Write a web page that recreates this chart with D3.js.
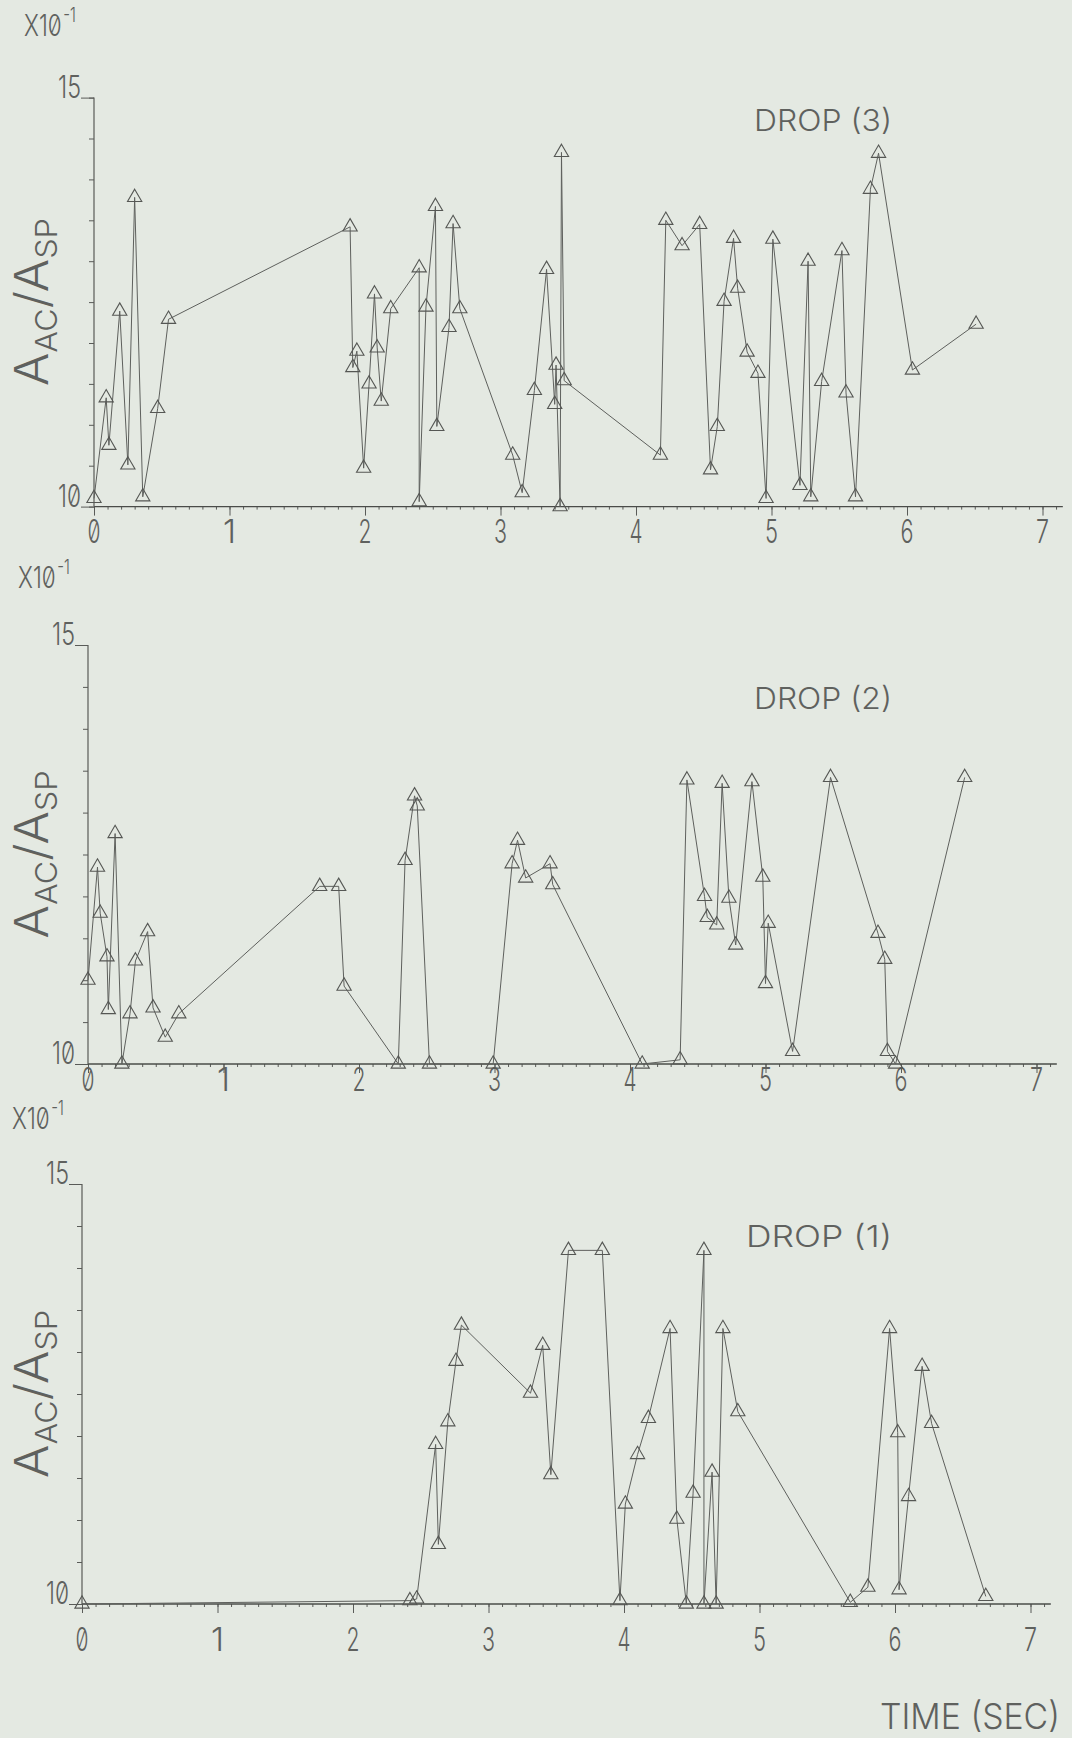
<!DOCTYPE html>
<html>
<head>
<meta charset="utf-8">
<script src="https://cdn.jsdelivr.net/npm/d3@7"></script>
<style>
  html, body { margin: 0; padding: 0; background: #e4e9e2; }
  svg { display: block; }
  .plot-text {
    font-family: Inter, "DejaVu Sans", sans-serif;
    font-weight: 300;
    fill: #5f615e;
    font-feature-settings: "zero" 1;
  }
</style>
</head>
<body>
<svg id="chart" width="1072" height="1738"></svg>
<script>
/* Data: time (sec) vs A_AC/A_SP (x10^-1) */
const drop3Time = [0.00, 0.09, 0.11, 0.19, 0.25, 0.30, 0.36, 0.47, 0.55,
  1.89, 1.91, 1.94, 1.99, 2.03, 2.07, 2.09, 2.12, 2.19,
  2.40, 2.40, 2.45, 2.52, 2.53, 2.62, 2.65, 2.70,
  3.09, 3.16, 3.25, 3.34, 3.40, 3.41, 3.44, 3.45, 3.47,
  4.18, 4.22, 4.34, 4.47, 4.55, 4.60, 4.65, 4.72, 4.75, 4.82, 4.90, 4.96,
  5.01, 5.21, 5.27, 5.29, 5.37, 5.52, 5.55, 5.62, 5.73, 5.79,
  6.04, 6.51];
const drop3Ratio = [10.10, 11.33, 10.75, 12.39, 10.51, 13.78, 10.12, 11.20, 12.29,
  13.42, 11.70, 11.90, 10.47, 11.50, 12.60, 11.94, 11.29, 12.42,
  12.92, 10.06, 12.44, 13.67, 10.98, 12.19, 13.46, 12.42,
  10.63, 10.17, 11.42, 12.90, 11.25, 11.73, 10.00, 14.33, 11.54,
  10.63, 13.50, 13.19, 13.45, 10.45, 10.98, 12.51, 13.28, 12.67, 11.89, 11.63, 10.10,
  13.27, 10.26, 13.00, 10.12, 11.53, 13.13, 11.39, 10.12, 13.88, 14.32,
  11.67, 12.23];

const drop2Time = [0.00, 0.07, 0.09, 0.14, 0.15, 0.20, 0.25, 0.31, 0.35, 0.44, 0.48, 0.57, 0.67,
  1.71, 1.85, 1.89,
  2.29, 2.34, 2.41, 2.43, 2.52,
  2.99, 3.13, 3.17, 3.23, 3.41, 3.43,
  4.09, 4.37, 4.42, 4.55, 4.57, 4.64, 4.68, 4.73, 4.78,
  4.90, 4.98, 5.00, 5.02,
  5.20, 5.48, 5.83, 5.88, 5.90, 5.96, 6.47];
const drop2Ratio = [11.00, 12.35, 11.80, 11.28, 10.65, 12.75, 10.00, 10.60, 11.23, 11.58, 10.67, 10.32, 10.60,
  12.12, 12.12, 10.93,
  10.00, 12.43, 13.20, 13.08, 10.00,
  10.00, 12.39, 12.67, 12.22, 12.39, 12.14,
  10.00, 10.05, 13.39, 12.00, 11.75, 11.66, 13.35, 11.98, 11.42,
  13.37, 12.23, 10.96, 11.68,
  10.15, 13.42, 11.56, 11.25, 10.15, 10.00, 13.42];

const drop1Time = [0.00, 2.42, 2.47, 2.61, 2.63, 2.70, 2.76, 2.80,
  3.31, 3.40, 3.46, 3.59, 3.84, 3.97,
  4.01, 4.10, 4.18, 4.34, 4.39, 4.46, 4.51, 4.59, 4.59, 4.65, 4.68, 4.73, 4.84,
  5.67, 5.80, 5.96,
  6.02, 6.03, 6.10, 6.20, 6.27, 6.67];
const drop1Ratio = [10.00, 10.04, 10.06, 11.90, 10.71, 12.17, 12.89, 13.32,
  12.51, 13.08, 11.54, 14.21, 14.21, 10.04,
  11.19, 11.78, 12.21, 13.28, 11.01, 10.00, 11.32, 14.21, 10.00, 11.57, 10.00, 13.28, 12.29,
  10.02, 10.20, 13.28,
  12.04, 10.17, 11.28, 12.83, 12.15, 10.09];

const xTickValues = [0, 1, 2, 3, 4, 5, 6, 7];
const xTickLabels = ['0', '1', '2', '3', '4', '5', '6', '7'];
const yTickValues = [10, 15];
const yTickLabels = ['10', '15'];
const dropNames = ['DROP (3)', 'DROP (2)', 'DROP (1)'];

/* Layout of the three stacked plots (page pixels) */
const panels = [
  { name: dropNames[0], time: drop3Time, ratio: drop3Ratio, axisX: 94, y15: 97.6, y10: 506.6, labelY: 543, headY: 36, dropX: 754, dropY: 131 },
  { name: dropNames[1], time: drop2Time, ratio: drop2Ratio, axisX: 88, y15: 645, y10: 1064, labelY: 1091, headY: 588, dropX: 754, dropY: 709 },
  { name: dropNames[2], time: drop1Time, ratio: drop1Ratio, axisX: 82, y15: 1184, y10: 1604, labelY: 1651, headY: 1129, dropX: 746, dropY: 1247 }
];
const PX_PER_SEC = 135.5;
const INK = '#595b58';

const svg = d3.select('#chart');
svg.append('rect').attr('width', 1072).attr('height', 1738).attr('fill', '#e4e9e2');

const line = d3.line();
const triangle = d3.symbol().type(d3.symbolTriangle).size(88);

panels.forEach(p => {
  const x = d3.scaleLinear().domain([0, 7]).range([p.axisX, p.axisX + 7 * PX_PER_SEC]);
  const y = d3.scaleLinear().domain([10, 15]).range([p.y10, p.y15]);
  const g = svg.append('g');

  // x axis: minor ticks every 0.1 s, major every second
  const minor = g.append('g').attr('transform', `translate(0,${p.y10})`)
    .call(d3.axisBottom(x).tickValues(d3.range(0, 7.15, 0.1)).tickSize(3).tickFormat(''));
  const major = g.append('g').attr('transform', `translate(0,${p.y10})`)
    .call(d3.axisBottom(x).tickValues(xTickValues).tickSize(9).tickFormat(''));
  // y axis: minor ticks every 0.5
  const yMinor = g.append('g').attr('transform', `translate(${p.axisX},0)`)
    .call(d3.axisLeft(y).tickValues(d3.range(10, 15.01, 0.5)).tickSize(5).tickFormat(''));
  const yMajor = g.append('g').attr('transform', `translate(${p.axisX},0)`)
    .call(d3.axisLeft(y).tickValues(yTickValues).tickSize(13).tickFormat(''));
  [minor, major, yMinor, yMajor].forEach(a => {
    a.select('.domain').remove();
    a.selectAll('line').attr('stroke', INK).attr('stroke-width', 1);
  });

  // axis lines
  g.append('line').attr('x1', x(0)).attr('x2', x(7.15)).attr('y1', y(10)).attr('y2', y(10))
    .attr('stroke', '#4a4c49').attr('stroke-width', 1.4);
  g.append('line').attr('x1', x(0)).attr('x2', x(0)).attr('y1', y(10)).attr('y2', y(15))
    .attr('stroke', INK).attr('stroke-width', 1.2);

  // x tick labels
  g.selectAll('.xlab').data(xTickValues).enter().append('text')
    .attr('class', 'plot-text')
    .attr('x', d => x(d)).attr('y', p.labelY)
    .attr('text-anchor', 'middle')
    .attr('font-size', 33)
    .attr('textLength', 13).attr('lengthAdjust', 'spacingAndGlyphs')
    .text((d, i) => xTickLabels[i]);

  // y tick labels
  g.selectAll('.ylab').data(yTickValues).enter().append('text')
    .attr('class', 'plot-text')
    .attr('x', p.axisX - 13).attr('y', d => y(d))
    .attr('text-anchor', 'end')
    .attr('font-size', 31)
    .attr('textLength', 23).attr('lengthAdjust', 'spacingAndGlyphs')
    .text((d, i) => yTickLabels[i]);

  // X10^-1 multiplier, one text with a raised exponent
  const mult = g.append('text').attr('class', 'plot-text')
    .attr('transform', `translate(${p.axisX - 70},${p.headY}) scale(0.75,1)`);
  mult.append('tspan').attr('font-size', 30).text('X10');
  mult.append('tspan').attr('font-size', 20).attr('dx', 2).attr('dy', -14).text('-1');

  // y axis title
  const title = g.append('text')
    .attr('class', 'plot-text')
    .attr('transform', `translate(48,${(p.y10 + p.y15) / 2}) rotate(-90)`)
    .attr('text-anchor', 'middle')
    .attr('textLength', 168).attr('lengthAdjust', 'spacingAndGlyphs');
  title.append('tspan').attr('font-size', 46).text('A');
  title.append('tspan').attr('font-size', 30).attr('dy', 9).text('AC');
  title.append('tspan').attr('font-size', 46).attr('dy', -9).text('/A');
  title.append('tspan').attr('font-size', 30).attr('dy', 9).text('SP');

  // drop label
  g.append('text').attr('class', 'plot-text')
    .attr('x', p.dropX).attr('y', p.dropY)
    .attr('font-size', 30)
    .attr('textLength', 892 - p.dropX).attr('lengthAdjust', 'spacingAndGlyphs')
    .text(p.name);

  // series
  const pts = p.time.map((t, i) => [x(t), y(p.ratio[i])]);
  g.append('path').attr('d', line(pts))
    .attr('fill', 'none').attr('stroke', '#5e605d').attr('stroke-width', 1);
  g.selectAll('.mark').data(pts).enter().append('path')
    .attr('transform', d => `translate(${d[0]},${d[1]})`)
    .attr('d', triangle)
    .attr('fill', 'none').attr('stroke', '#555754').attr('stroke-width', 1.1);
});

// time axis title
svg.append('text').attr('class', 'plot-text')
  .attr('x', 880).attr('y', 1729)
  .attr('font-size', 36)
  .attr('textLength', 180).attr('lengthAdjust', 'spacingAndGlyphs')
  .text('TIME (SEC)');
</script>
</body>
</html>
